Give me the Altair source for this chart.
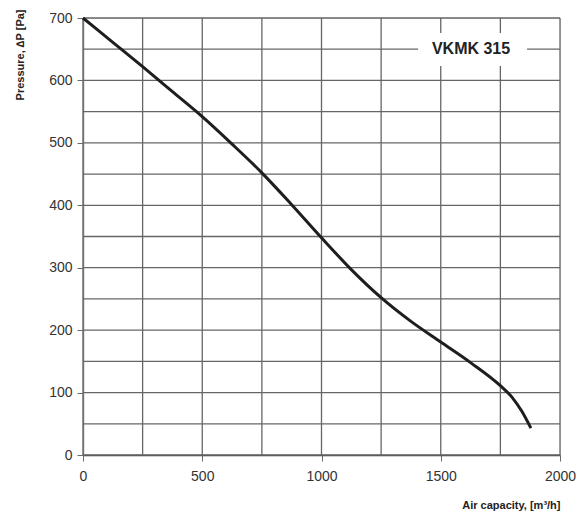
import altair as alt
import pandas as pd

airflow = [0, 125, 250, 375, 500, 625, 750, 875, 1000, 1125, 1250, 1375, 1500, 1625, 1750, 1800, 1840, 1878]
pressure = [700, 661, 622, 582, 542, 498, 452, 401, 348, 297, 252, 214, 181, 148, 111, 92, 70, 43]

x_grid = [0, 250, 500, 750, 1000, 1250, 1500, 1750, 2000]
y_grid = [0, 50, 100, 150, 200, 250, 300, 350, 400, 450, 500, 550, 600, 650, 700]
x_ticks = [0, 500, 1000, 1500, 2000]
y_ticks = [0, 100, 200, 300, 400, 500, 600, 700]

label_text = ["VKMK 315"]
label_x = [1627]
label_y = [650]
box_x = [1405]
box_x2 = [1862]
box_y = [676]
box_y2 = [623]

curve = pd.DataFrame({"q": airflow, "p": pressure})
box = pd.DataFrame({"x": box_x, "x2": box_x2, "y": box_y, "y2": box_y2})
lab = pd.DataFrame({"t": label_text, "x": label_x, "y": label_y})
xg = pd.DataFrame({"v": x_grid})
yg = pd.DataFrame({"v": y_grid})

xs = alt.Scale(domain=[0, 2000], nice=False, zero=False)
ys = alt.Scale(domain=[0, 700], nice=False, zero=False)

xaxis = alt.Axis(
    values=x_ticks, format="d", grid=False,
    tickSize=6, tickColor="#6a6a6a",
    domainColor="#444444", domainWidth=1.5,
    labelFont="Liberation Sans", labelFontSize=14, labelColor="#333333", labelPadding=8,
    labelFlush=False, labelOverlap=False,
    title="Air capacity, [m³/h]", titleFont="Liberation Sans", titleFontSize=11,
    titleFontWeight="bold", titleColor="#222222",
    titleX=477, titleY=50, titleAlign="right", titleBaseline="middle",
)
yaxis = alt.Axis(
    values=y_ticks, format="d", grid=False,
    tickSize=6, tickColor="#6a6a6a",
    domainColor="#8a8a8a", domainWidth=1.5,
    labelFont="Liberation Sans", labelFontSize=14, labelColor="#333333", labelPadding=5,
    labelFlush=False, labelOverlap=False,
    title="Pressure, ∆P [Pa]", titleFont="Liberation Sans", titleFontSize=11,
    titleFontWeight="bold", titleColor="#222222",
    titleX=-63, titleY=-9, titleAngle=270, titleAlign="right", titleBaseline="middle",
)

vgrid = alt.Chart(xg).mark_rule(color="#666666", strokeWidth=1.3).encode(
    x=alt.X("v:Q", scale=xs, axis=xaxis)
)
hgrid = alt.Chart(yg).mark_rule(color="#666666", strokeWidth=1.3).encode(
    y=alt.Y("v:Q", scale=ys, axis=yaxis)
)
line = alt.Chart(curve).mark_line(color="#1e1e1e", strokeWidth=3, interpolate="monotone").encode(
    x=alt.X("q:Q", scale=xs, axis=xaxis),
    y=alt.Y("p:Q", scale=ys, axis=yaxis),
)
rect = alt.Chart(box).mark_rect(color="white").encode(
    x=alt.X("x:Q", scale=xs, axis=xaxis), x2="x2:Q",
    y=alt.Y("y:Q", scale=ys, axis=yaxis), y2="y2:Q",
)
text = alt.Chart(lab).mark_text(
    font="Liberation Sans", fontSize=16, fontWeight="bold", color="#222222",
    align="center", baseline="middle",
).encode(
    x=alt.X("x:Q", scale=xs, axis=xaxis), y=alt.Y("y:Q", scale=ys, axis=yaxis), text="t:N"
)

chart = alt.layer(vgrid, hgrid, rect, text, line).properties(
    width=477, height=437,
    autosize=alt.AutoSizeParams(type="none"),
    padding={"left": 75, "top": 10, "right": 17, "bottom": 60},
).configure_view(stroke=None).configure(background="white")

chart.save("out.html", embed_options={"renderer": "svg", "actions": False})
